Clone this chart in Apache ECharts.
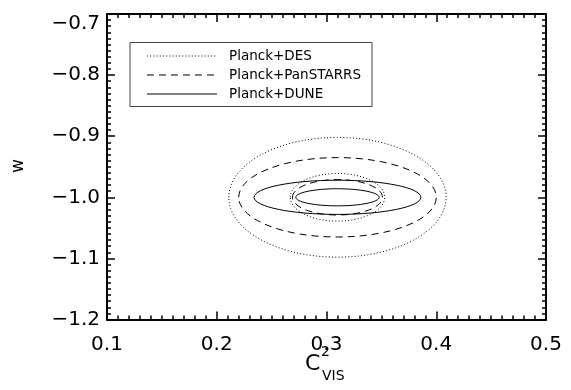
<!DOCTYPE html>
<html>
<head>
<meta charset="utf-8">
<script src="https://cdn.jsdelivr.net/npm/echarts@6/dist/echarts.min.js"></script>
<style>
html,body{margin:0;padding:0;background:#fff;}
#chart{width:571px;height:390px;}
</style>
</head>
<body>
<div id="chart"></div>
<script>
// Axis ranges and ticks
const xMin = 0.1, xMax = 0.5, xStep = 0.1;
const yMin = -1.2, yMax = -0.7, yStep = 0.1;

// Legend / experiment names and styles
const experiments = ['Planck+DES', 'Planck+PanSTARRS', 'Planck+DUNE'];
const dashStyles = [[1, 2.2], [7, 5], null];

// Contours (ellipses): which experiment, centre and semi-axes (data units)
const ellExp = [0, 0, 1, 1, 2, 2];
const ellCx = [0.310, 0.310, 0.310, 0.310, 0.310, 0.310];
const ellCy = [-1.000, -1.000, -1.000, -1.000, -1.000, -1.000];
const ellRx = [0.099, 0.043, 0.090, 0.041, 0.076, 0.038];
const ellRy = [0.098, 0.039, 0.065, 0.029, 0.028, 0.014];

const chart = echarts.init(document.getElementById('chart'), null, {renderer: 'canvas'});

const fontFam = 'DejaVu Sans';
const fmtY = v => v.toFixed(1).replace('-', '\u2212');
const fmtX = v => v.toFixed(1);

function makeAxis(pos, isX, showLabel) {
  return {
    type: 'value',
    position: pos,
    min: isX ? xMin : yMin,
    max: isX ? xMax : yMax,
    interval: isX ? xStep : yStep,
    splitLine: {show: false},
    axisLine: {show: true, onZero: false, lineStyle: {color: '#000', width: 2}},
    axisTick: {show: true, inside: true, length: 8, lineStyle: {color: '#000', width: 1.5}},
    minorTick: {show: true, splitNumber: 10, length: 4, lineStyle: {color: '#000', width: 1.5}},
    minorSplitLine: {show: false},
    axisLabel: showLabel ? {
      show: true,
      color: '#000',
      fontFamily: fontFam,
      fontSize: 20,
      margin: isX ? 15 : 7,
      formatter: isX ? fmtX : fmtY,
      showMinLabel: true,
      showMaxLabel: true,
      verticalAlignMaxLabel: isX ? undefined : 'top'
    } : {show: false}
  };
}

const series = experiments.map((name, k) => {
  const data = [];
  for (let i = 0; i < ellExp.length; i++) {
    if (ellExp[i] === k) data.push([ellCx[i], ellCy[i], ellRx[i], ellRy[i]]);
  }
  return {
    type: 'custom',
    name: name,
    xAxisIndex: 0,
    yAxisIndex: 0,
    clip: true,
    encode: {x: 0, y: 1},
    data: data,
    renderItem: function (params, api) {
      const c = api.coord([api.value(0), api.value(1)]);
      const s = api.size([api.value(2), api.value(3)]);
      const style = {fill: null, stroke: '#000', lineWidth: 1};
      if (dashStyles[k]) style.lineDash = dashStyles[k];
      return {
        type: 'ellipse',
        shape: {cx: c[0], cy: c[1], rx: s[0], ry: s[1]},
        style: style
      };
    }
  };
});

// Legend drawn as graphic group
const legendLeft = 130, legendTop = 42.5, legendW = 242, legendH = 64;
const rowY = [56, 75, 94];
const legendChildren = [{
  type: 'rect',
  shape: {x: legendLeft, y: legendTop, width: legendW, height: legendH},
  style: {fill: null, stroke: '#444', lineWidth: 1}
}];
experiments.forEach((name, k) => {
  const ls = {stroke: '#000', lineWidth: 1};
  if (dashStyles[k]) ls.lineDash = dashStyles[k];
  legendChildren.push({
    type: 'line',
    shape: {x1: 147, y1: rowY[k], x2: 217, y2: rowY[k]},
    style: ls
  });
  legendChildren.push({
    type: 'text',
    x: 229, y: rowY[k],
    style: {text: name, fill: '#000', font: '13.5px "DejaVu Sans"', textAlign: 'left', textVerticalAlign: 'middle'}
  });
});

const option = {
  backgroundColor: '#fff',
  animation: false,
  grid: {left: 107, right: 25, top: 14, bottom: 70.5, containLabel: false},
  xAxis: [makeAxis('bottom', true, true), makeAxis('top', true, false)],
  yAxis: [makeAxis('left', false, true), makeAxis('right', false, false)],
  series: series,
  graphic: [
    {type: 'group', children: legendChildren},
    {type: 'text', x: 19, y: 166, rotation: Math.PI / 2,
      style: {text: 'w', fill: '#000', font: '17px "DejaVu Sans"', textAlign: 'center', textVerticalAlign: 'middle'}},
    {type: 'text', x: 305, y: 364,
      style: {text: 'C', fill: '#000', font: '22px "DejaVu Sans"', textAlign: 'left', textVerticalAlign: 'middle'}},
    {type: 'text', x: 321, y: 352,
      style: {text: '2', fill: '#000', font: '14px "DejaVu Sans"', textAlign: 'left', textVerticalAlign: 'middle'}},
    {type: 'text', x: 322, y: 376,
      style: {text: 'VIS', fill: '#000', font: '14px "DejaVu Sans"', textAlign: 'left', textVerticalAlign: 'middle'}}
  ]
};
chart.setOption(option);
</script>
</body>
</html>
